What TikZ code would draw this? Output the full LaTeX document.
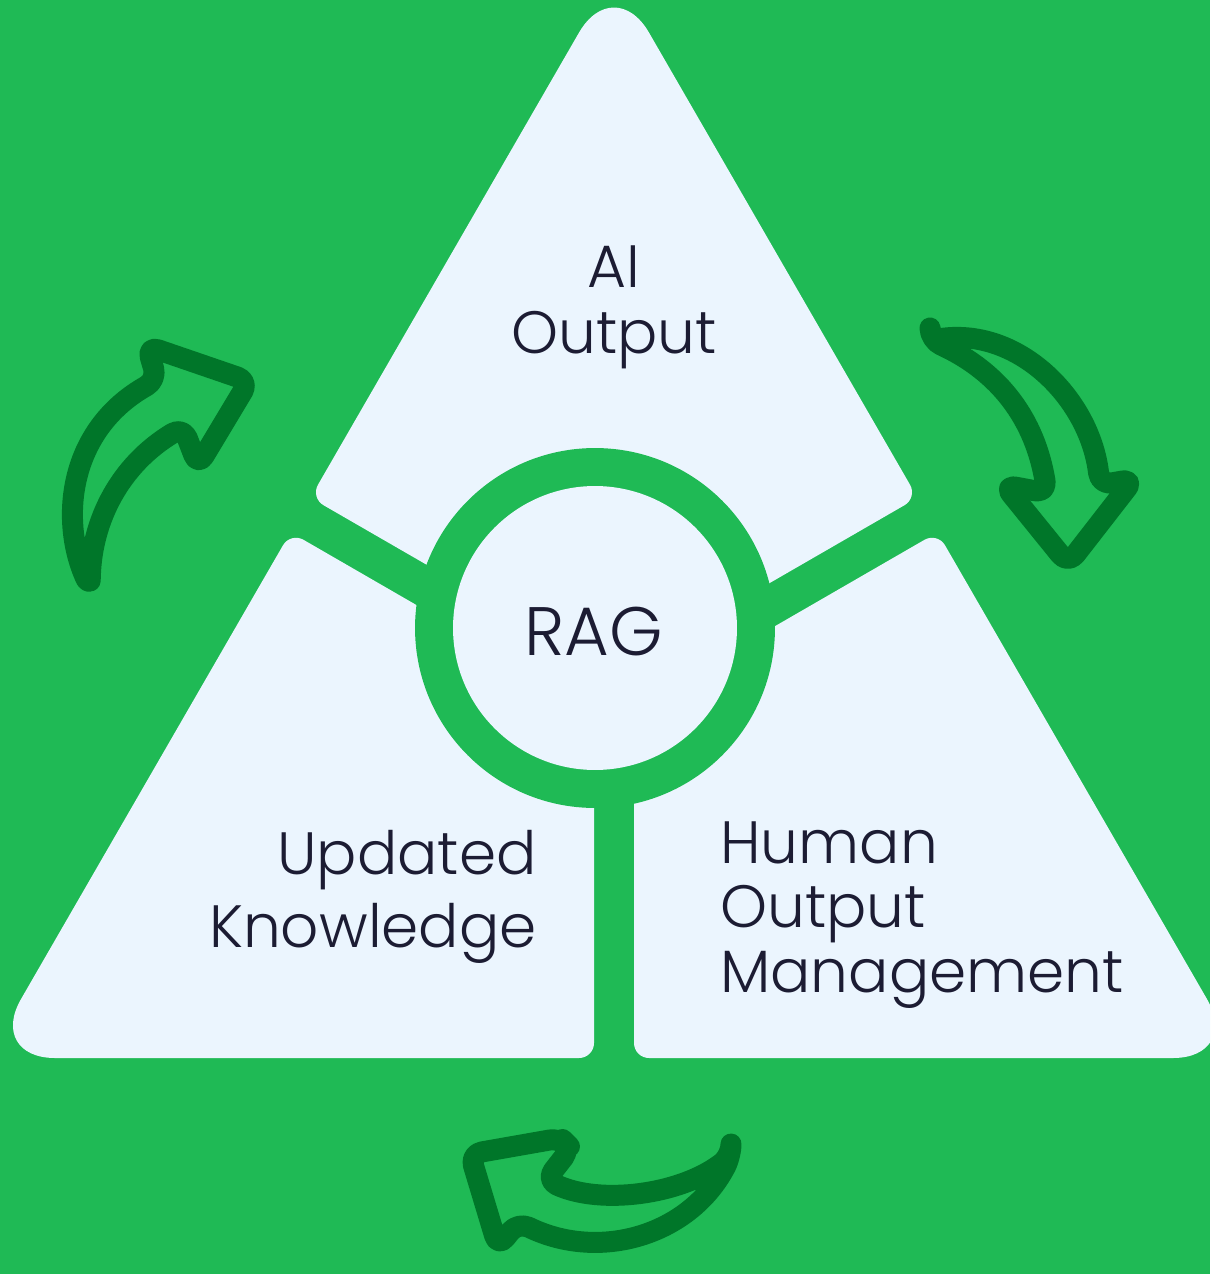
\documentclass[tikz,border=0pt]{standalone}
\usepackage{fontspec}
\setmainfont{Poppins}[UprightFont={* Light}]
\usetikzlibrary{positioning}
\definecolor{bggreen}{HTML}{1FBA55}
\definecolor{piece}{HTML}{EBF5FE}
\definecolor{arrowgreen}{HTML}{007629}
\definecolor{ink}{HTML}{1C1C33}

\begin{document}
\begin{tikzpicture}[x=0.02cm,y=-0.02cm,
  loop arrow/.style={draw=arrowgreen,line width=0.42cm,line join=round,line cap=round,rounded corners=0.24cm},
  textlabel/.style={text=ink,inner sep=0pt}]
  \useasboundingbox (0,0) rectangle (1210,1274);
  \clip (0,0) rectangle (1210,1274);
  \fill[bggreen] (0,0) rectangle (1210,1274);
  % three pieces of the triangle
  \fill[piece] (462.25,234.85) [rounded corners=0.3cm] -- (310.5,497.7) -- (614,672.9) -- (917.5,497.7) [rounded corners=1.4cm] -- (614,-28) [sharp corners] -- cycle;
  \fill[piece] (138.75,795.15) [rounded corners=1.36cm] -- (-13,1058) [rounded corners=0.3cm] -- (594,1058) -- (594,707.6) -- (290.5,532.3) [sharp corners] -- cycle;
  \fill[piece] (1089.25,795.15) [rounded corners=1.36cm] -- (1241,1058) [rounded corners=0.3cm] -- (634,1058) -- (634,707.6) -- (937.5,532.3) [sharp corners] -- cycle;
  % ring
  \fill[bggreen] (595,628) circle[radius=3.6cm];
  \fill[piece] (595,628) circle[radius=2.84cm];
  % labels (base = last line)
  \node[textlabel,anchor=base,align=center,font=\fontsize{34}{37}\selectfont] (aiout) at (614,353) {AI\\Output};
  \node[textlabel,anchor=base,font=\fontsize{39}{44}\selectfont] (rag) at (594,655) {RAG};
  \node[textlabel,anchor=base east,align=right,font=\fontsize{34}{41}\selectfont] (updknow) at (537,947) {Updated\\Knowledge};
  \node[textlabel,anchor=base west,align=left,font=\fontsize{34}{36.7}\selectfont] (humanout) at (720,992) {Human\\Output\\Management};
  % cycle arrows
  \draw[loop arrow] (90,588) .. controls (60,520) and (68,430) .. (157,380) -- (147,346) -- (249,381) -- (198,466) -- (183,427) .. controls (120,465) and (92,520) .. (90,588) -- cycle;
  \draw[loop arrow] (930,340) .. controls (1020,328) and (1090,400) .. (1100,485) -- (1134,479) -- (1068,564) -- (1004,485) -- (1047,493) .. controls (1035,420) and (1000,372) .. (930,340) -- cycle;
  \draw[loop arrow] (731,1156) .. controls (680,1195) and (600,1205) .. (546,1180) -- (571,1148) -- (561,1138) -- (470,1154) -- (498,1247) -- (518,1222) .. controls (600,1262) and (690,1235) .. (731,1156) -- cycle;
\end{tikzpicture}
\end{document}
